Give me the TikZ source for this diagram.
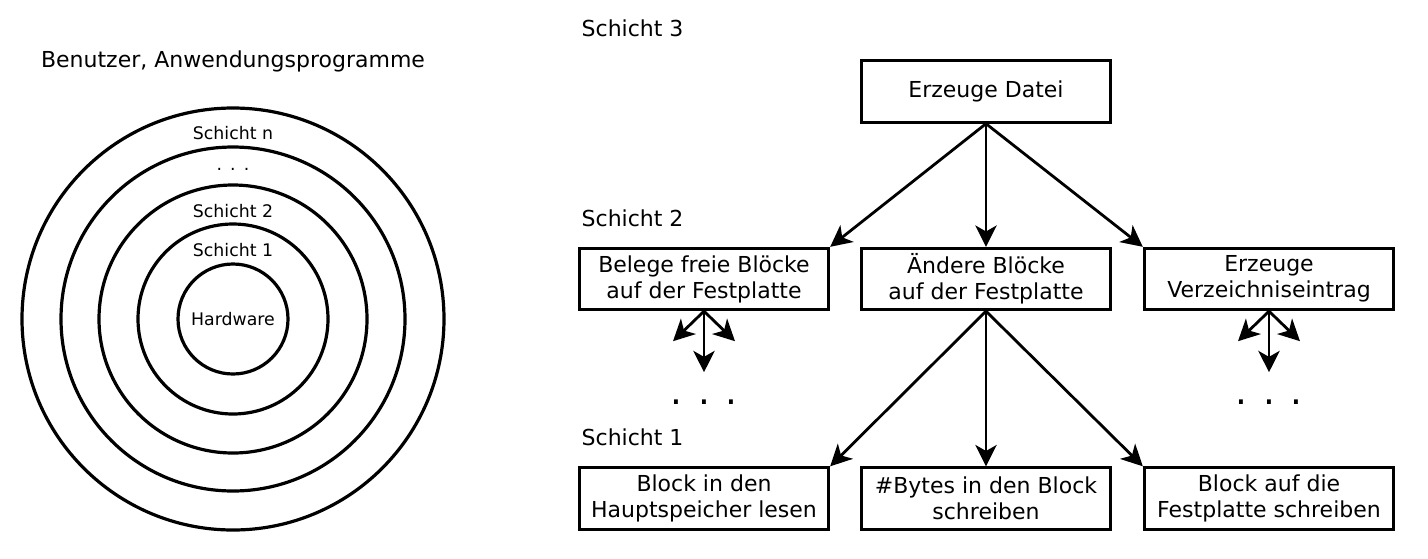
\documentclass[tikz,border=0pt]{standalone}
\usepackage{fontspec}
\setmainfont{DejaVu Sans}
\usetikzlibrary{arrows.meta, positioning}

\begin{document}
\begin{tikzpicture}[x=0.75pt, y=-0.75pt, >={Stealth[length=16pt, width=16pt, inset=4.5pt]},
  box/.style={draw, line width=2.3pt, minimum width=187pt, minimum height=46pt, inner sep=0pt, align=center, txt},
  txt/.style={font=\fontsize{16.5}{19.5}\selectfont},
  small/.style={anchor=base, font=\fontsize{13}{15}\selectfont},
  ring/.style={line width=2.4pt},
  conn/.style={->, line width=2.1pt},
  bigdots/.style={anchor=base, font=\fontsize{28}{30}\selectfont}]
\useasboundingbox (0,0) rectangle (1428,558);
% Schalenmodell
\coordinate (hw) at (233,319);
\foreach \r in {55,95,134,172,211} \draw[ring] (hw) circle (\r);
\node[txt, anchor=base] (user) at (233,67) {Benutzer, Anwendungsprogramme};
\node[small] (sn) at (233,139) {Schicht n};
\node[small] (sdots) at (233,170) {.\hspace{6pt}.\hspace{6pt}.};
\node[small] (s2) at (233,217) {Schicht 2};
\node[small] (s1) at (233,256) {Schicht 1};
\node[small] (hwlbl) at (233,325) {Hardware};
% Schichten
\node[txt, anchor=base west] (l3) at (577,36.5) {Schicht 3};
\node[txt, anchor=base west] (l2) at (577,226.5) {Schicht 2};
\node[txt, anchor=base west] (l1) at (577,445) {Schicht 1};
\node[box] (datei) at (986,91.5) {Erzeuge Datei};
\node[box] (belege) at (704,279) {Belege freie Blöcke\\auf der Festplatte};
\node[box] (aendere) at (986,279) {Ändere Blöcke\\auf der Festplatte};
\node[box] (eintrag) at (1269,279) {Erzeuge\\Verzeichniseintrag};
\node[box] (lesen) at (704,498.5) {Block in den\\Hauptspeicher lesen};
\node[box] (bytes) at (986,498.5) {\#Bytes in den Block\\schreiben};
\node[box] (schreiben) at (1269,498.5) {Block auf die\\Festplatte schreiben};
\draw[conn] (datei.south) -- (belege.north east);
\draw[conn] (datei.south) -- (aendere.north);
\draw[conn] (datei.south) -- (eintrag.north west);
\draw[conn] (aendere.south) -- (lesen.north east);
\draw[conn] (aendere.south) -- (bytes.north);
\draw[conn] (aendere.south) -- (schreiben.north west);
\foreach \b in {belege,eintrag}{
  \coordinate (\b-l) at ([shift={(-31,30)}]\b.south);
  \coordinate (\b-r) at ([shift={(31,30)}]\b.south);
  \coordinate (\b-d) at ([shift={(0,61)}]\b.south);
  \draw[conn] (\b.south) -- (\b-l);
  \draw[conn] (\b.south) -- (\b-r);
  \draw[conn] (\b.south) -- (\b-d);
  \node[bigdots] (\b-dots) at ([shift={(0,93)}]\b.south) {. . .};
}
\end{tikzpicture}
\end{document}
